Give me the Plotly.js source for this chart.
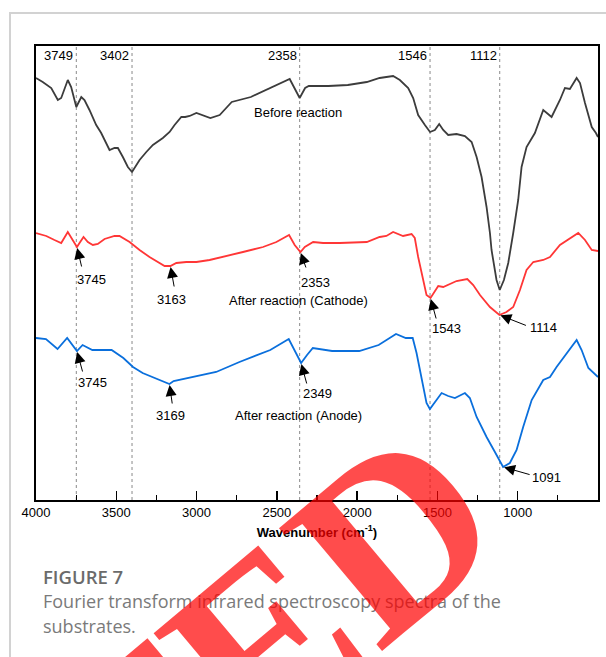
<!DOCTYPE html>
<html>
<head>
<meta charset="utf-8">
<script src="https://cdn.plot.ly/plotly-3.0.1.min.js"></script>
<style>
  html, body { margin: 0; padding: 0; background: #ffffff; }
  #wrap { position: relative; width: 606px; height: 657px; overflow: hidden; }
  #frame { position: absolute; left: 9px; top: 12px; width: 720px; height: 720px;
           border: 2px solid #d2d2d2; box-sizing: border-box; }
  #chart { position: absolute; left: 0; top: 0; width: 606px; height: 657px; }
</style>
</head>
<body>
<div id="wrap"><div id="frame"></div><div id="chart"></div></div>
<script>
// FTIR spectra (transmittance, arbitrary offset units) vs wavenumber (cm-1)
const wnBefore = [4000,3958,3905,3864,3843,3822,3802,3781,3749,3718,3698,3667,3625,3594,3562,3542,3511,3490,3459,3428,3402,3386,3355,3313,3272,3210,3168,3137,3095,3071,3043,3001,2914,2856,2781,2662,2541,2420,2384,2358,2324,2301,2179,2058,1940,1860,1818,1776,1734,1682,1651,1620,1578,1546,1516,1489,1464,1433,1381,1329,1287,1256,1225,1194,1173,1163,1132,1112,1086,1059,1028,997,976,945,893,841,789,737,706,675,633,612,581,539,513,500];
const tBefore  = [422,418,412,400,402,412,420,413,393,403,400,390,375,367,357,350,352,352,343,333,328,332,340,348,355,362,368,375,383,383,384,387,382,385,398,403,412,421,410,402,412,414,414,415,418,422,423,424,420,412,402,385,375,368,370,376,370,365,366,364,358,343,323,293,267,250,220,210,220,237,267,300,333,353,367,390,383,400,412,411,422,417,397,373,367,363];

const wnCathode = [4000,3936,3885,3843,3802,3771,3745,3729,3704,3677,3646,3615,3573,3511,3480,3417,3355,3293,3241,3199,3163,3126,3064,3001,2919,2836,2711,2586,2503,2424,2389,2353,2326,2274,2212,2108,1940,1860,1818,1776,1714,1661,1641,1620,1599,1568,1543,1522,1495,1464,1433,1381,1314,1277,1235,1173,1114,1070,1028,986,945,903,841,799,737,675,623,581,539,500];
const tCathode  = [267,264,260,257,268,260,253,257,263,258,255,256,261,264,264,258,250,243,238,234,234,237,238,238,240,243,248,253,258,265,255,248,253,258,257,257,258,263,264,268,264,266,262,243,227,205,202,207,214,213,215,219,221,215,205,193,185,188,193,210,230,238,240,243,255,262,267,260,250,249];

const wnAnode = [4000,3938,3866,3806,3745,3710,3649,3589,3529,3456,3396,3336,3264,3169,3143,3023,2878,2733,2541,2426,2384,2349,2312,2276,2156,1987,1866,1758,1697,1654,1630,1599,1568,1547,1516,1474,1433,1391,1329,1298,1256,1194,1142,1091,1049,1007,966,913,841,799,758,695,633,602,560,500];
const tAnode  = [162,161,151,162,149,155,150,150,150,142,133,127,122,116,119,123,128,138,150,161,148,137,145,152,149,149,155,166,162,162,147,120,97,91,98,107,104,102,107,102,83,63,48,33,37,50,73,100,120,123,133,147,160,150,132,123];

// Band positions marked by dotted guides and by arrows
const guideBands   = [3749, 3402, 2358, 1546, 1112];
const cathodeBands = [3745, 3163, 2353, 1543, 1114];
const anodeBands   = [3745, 3169, 2349, 1091];

const xTicks = [4000, 3500, 3000, 2500, 2000, 1500, 1000, 500];
const seriesNames = ['Before reaction', 'After reaction (Cathode)', 'After reaction (Anode)'];

const SANS = 'Liberation Sans, Arial, sans-serif';

function valueAt(ws, vs, w) {
  const i = ws.indexOf(w);
  if (i >= 0) return vs[i];
  for (let k = 0; k < ws.length - 1; k++) {
    if (ws[k] >= w && ws[k + 1] <= w) {
      const f = (ws[k] - w) / (ws[k] - ws[k + 1]);
      return vs[k] + f * (vs[k + 1] - vs[k]);
    }
  }
  return vs[vs.length - 1];
}

const traces = [
  { x: wnBefore,  y: tBefore,  name: seriesNames[0], mode: 'lines', line: { color: '#3c3c3c', width: 1.8 } },
  { x: wnCathode, y: tCathode, name: seriesNames[1], mode: 'lines', line: { color: '#ff3636', width: 1.8 } },
  { x: wnAnode,   y: tAnode,   name: seriesNames[2], mode: 'lines', line: { color: '#0a6fdc', width: 1.8 } }
];

const shapes = guideBands.map(w => ({
  type: 'line', xref: 'x', yref: 'paper', x0: w, x1: w, y0: 0, y1: 1,
  line: { color: '#8a8a8a', width: 1, dash: 'dot' }, layer: 'below'
}));

const annotations = [];

// guide labels along the top edge
guideBands.forEach(w => annotations.push({
  xref: 'x', yref: 'paper', x: w, y: 0.98, xanchor: 'right', yanchor: 'middle',
  xshift: -1, text: String(w), showarrow: false, font: { family: SANS, size: 13, color: '#000' }
}));

// curve names
const nameSpots = [[2370, 388], [2365, 200], [2365, 85]];
seriesNames.forEach((n, i) => annotations.push({
  xref: 'x', yref: 'y', x: nameSpots[i][0], y: nameSpots[i][1], xanchor: 'center', yanchor: 'middle',
  text: n, showarrow: false, font: { family: SANS, size: 13, color: '#000' }
}));

// arrow + label for a band: [tail dx, tail dy, label dx, label dy] in pixels from the band point
function marker(ws, vs, w, geo) {
  const y = valueAt(ws, vs, w);
  annotations.push({
    xref: 'x', yref: 'y', x: w, y: y, text: '', showarrow: true,
    ax: geo[0], ay: geo[1], arrowhead: 2, arrowsize: 2.2, arrowwidth: 1, arrowcolor: '#000', standoff: 1
  });
  annotations.push({
    xref: 'x', yref: 'y', x: w, y: y, xshift: geo[2], yshift: -geo[3],
    xanchor: 'center', yanchor: 'middle', text: String(w), showarrow: false,
    font: { family: SANS, size: 13, color: '#000' }
  });
}
const cathodeGeo = [[5, 21, 15, 32], [4, 22, 1, 33], [6, 17, 15, 30], [6, 22, 16, 30], [28, 11, 44, 12]];
const anodeGeo   = [[6, 22, 16, 31], [3, 21, 1, 31], [6, 22, 16, 30], [28, 8, 43, 10]];
cathodeBands.forEach((w, i) => marker(wnCathode, tCathode, w, cathodeGeo[i]));
anodeBands.forEach((w, i) => marker(wnAnode, tAnode, w, anodeGeo[i]));

// figure caption below the chart
annotations.push({
  xref: 'paper', yref: 'paper', x: 0.0095, y: -0.169, xanchor: 'left', yanchor: 'middle',
  text: 'FIGURE 7', showarrow: false,
  font: { family: 'Open Sans, sans-serif', size: 18.5, color: '#6b6b6b', weight: 600 }
});
annotations.push({
  xref: 'paper', yref: 'paper', x: 0.0095, y: -0.223, xanchor: 'left', yanchor: 'middle',
  text: 'Fourier transform infrared spectroscopy spectra of the', showarrow: false,
  font: { family: 'Open Sans, sans-serif', size: 18, color: '#7a7a7a' }
});
annotations.push({
  xref: 'paper', yref: 'paper', x: 0.0095, y: -0.278, xanchor: 'left', yanchor: 'middle',
  text: 'substrates.', showarrow: false,
  font: { family: 'Open Sans, sans-serif', size: 18, color: '#7a7a7a' }
});

// retraction stamp across the page
annotations.push({
  xref: 'paper', yref: 'paper', x: -0.2925, y: -1.0388, xanchor: 'center', yanchor: 'middle',
  text: '<b>RETRACTED</b>', textangle: -40, showarrow: false,
  font: { family: 'Liberation Serif, Times New Roman, serif', size: 245, color: 'rgba(255,0,0,0.7)' }
});

const layout = {
  width: 606, height: 657,
  margin: { l: 36, r: 8, t: 46, b: 157, pad: 0 },
  paper_bgcolor: 'rgba(0,0,0,0)', plot_bgcolor: 'rgba(0,0,0,0)',
  showlegend: false,
  xaxis: {
    range: [4000, 500], tickvals: xTicks, ticktext: xTicks.map(String),
    showline: true, mirror: true, linecolor: '#000', linewidth: 1.6,
    ticks: 'inside', ticklen: 9, tickwidth: 1.4, tickcolor: '#000',
    minor: { ticks: 'inside', ticklen: 5, tickwidth: 1.2, tickcolor: '#000', dtick: 250, tick0: 0, showgrid: false },
    showgrid: false, zeroline: false,
    tickfont: { family: SANS, size: 13, color: '#000' },
    title: { text: '<b>Wavenumber (cm<sup>-1</sup>)</b>', font: { family: SANS, size: 13, color: '#000' }, standoff: 8 }
  },
  yaxis: {
    range: [0, 454], showline: true, mirror: true, linecolor: '#000', linewidth: 1.6,
    ticks: '', showticklabels: false, showgrid: false, zeroline: false
  },
  shapes: shapes,
  annotations: annotations
};

Plotly.newPlot('chart', traces, layout, { displayModeBar: false, staticPlot: true });
</script>
</body>
</html>
